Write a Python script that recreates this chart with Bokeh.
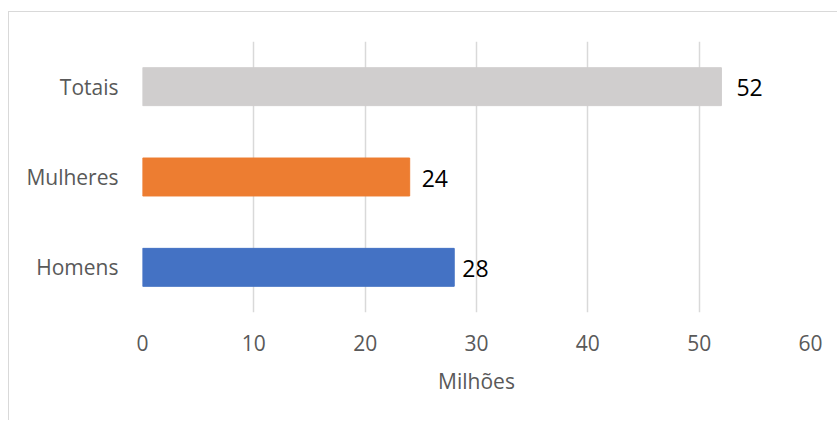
from bokeh.plotting import figure
from bokeh.models import Range1d, FactorRange, ColumnDataSource, FixedTicker
from bokeh.core.properties import value
from bokeh.embed import file_html
from bokeh.resources import INLINE

categories = ["Homens", "Mulheres", "Totais"]
values = [28, 24, 52]
colors = ["#4472c4", "#ed7d31", "#d0cece"]
x_ticks = [0, 10, 20, 30, 40, 50, 60]
x_title = "Milhões"

# style: gap between bar end and its label (px)
label_gap = [8, 12, 15]

src = ColumnDataSource(dict(cat=categories, val=values, col=colors,
                            lab=[str(v) for v in values], gap=label_gap))

FONT = "Open Sans"
p = figure(width=829, height=409, output_backend="svg", toolbar_location=None,
           x_range=Range1d(0, 60), y_range=FactorRange(*categories, range_padding=0),
           min_border_left=133, min_border_right=28, min_border_top=29, min_border_bottom=109)
p.margin = (12, 0, 0, 9)
p.styles = {"box-shadow": "-1px -1px 0 0 #d9d9d9"}
p.outline_line_color = None
p.hbar(y="cat", right="val", left=0, height=0.42, color="col", source=src)
p.text(x="val", y="cat", text="lab", source=src, x_offset="gap", y_offset=1,
       text_align="left", text_baseline="middle", text_color="#000000",
       text_font=value(FONT), text_font_size="23px")

p.xaxis.ticker = FixedTicker(ticks=x_ticks)
p.xaxis.axis_line_color = None
p.xaxis.major_tick_line_color = None
p.xaxis.minor_tick_line_color = None
p.xaxis.major_label_standoff = 16
p.xaxis.major_label_text_font = FONT
p.xaxis.major_label_text_font_size = "21px"
p.xaxis.major_label_text_color = "#595959"
p.xaxis.axis_label = x_title
p.xaxis.axis_label_text_font = FONT
p.xaxis.axis_label_text_font_size = "21px"
p.xaxis.axis_label_text_font_style = "normal"
p.xaxis.axis_label_text_color = "#595959"
p.xaxis.axis_label_standoff = 13

p.yaxis.axis_line_color = None
p.yaxis.major_tick_line_color = None
p.yaxis.minor_tick_line_color = None
p.yaxis.major_label_standoff = 18
p.yaxis.major_label_text_font = FONT
p.yaxis.major_label_text_font_size = "21px"
p.yaxis.major_label_text_color = "#595959"

p.xgrid.grid_line_color = "#d9d9d9"
p.xgrid.grid_line_width = 1.5
p.ygrid.grid_line_color = None

open("out.html", "w").write(file_html(p, INLINE))
